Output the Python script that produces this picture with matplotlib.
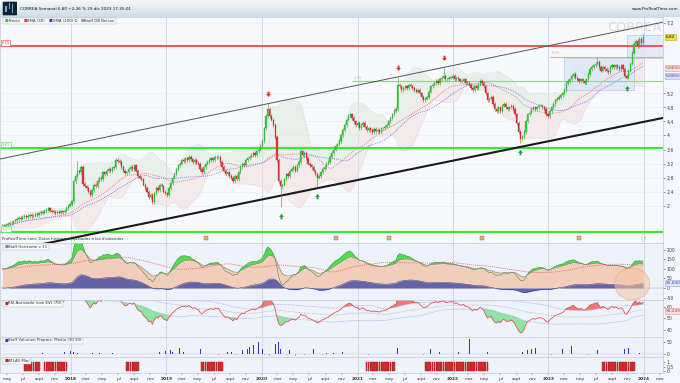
import numpy as np
import pandas as pd
import matplotlib
matplotlib.use("Agg")
import matplotlib.pyplot as plt
import matplotlib.dates as mdates
import matplotlib.transforms as mtrans
from matplotlib.patches import Rectangle, Ellipse, FancyBboxPatch
from matplotlib.path import Path

plt.rcParams['font.family'] = ['DejaVu Sans']

# ---------------------------------------------------------------- data
last_week = "2023-12-29"
closes = [
    1.44, 1.42, 1.45, 1.48, 1.52, 1.50, 1.55, 1.58, 1.62, 1.66, 1.63, 1.68, 1.70, 1.67, 1.71, 1.74, 1.70, 1.72, 1.76, 1.73,
    1.78, 1.82, 1.80, 1.85, 1.88, 1.92, 1.86, 1.83, 1.82, 1.79, 1.83, 1.80, 1.84, 1.82, 1.86, 1.93, 2.00, 2.05, 2.12, 2.70,
    2.85, 3.00, 2.95, 3.10, 2.62, 2.55, 2.50, 2.40, 2.30, 2.45, 2.60, 2.55, 2.70, 2.80, 2.75, 2.95, 2.90, 3.00, 3.05, 2.98,
    3.08, 3.10, 3.30, 3.28, 3.25, 3.10, 3.00, 2.92, 2.95, 3.05, 3.10, 3.05, 3.15, 3.00, 2.85, 2.80, 2.75, 2.60, 2.50, 2.40,
    2.25, 2.30, 2.10, 2.35, 2.50, 2.45, 2.60, 2.55, 2.40, 2.35, 2.30, 2.50, 2.65, 2.80, 2.90, 3.05, 3.15, 3.20, 3.30, 3.28,
    3.35, 3.30, 3.40, 3.32, 3.25, 3.30, 3.22, 3.20, 3.05, 2.95, 3.10, 3.20, 3.25, 3.30, 3.35, 3.30, 3.40, 3.38, 3.40, 3.25,
    3.10, 3.00, 2.90, 2.95, 2.85, 2.80, 2.70, 2.85, 2.75, 2.95, 3.10, 3.20, 3.15, 3.30, 3.35, 3.40, 3.45, 3.50, 3.45, 3.55,
    3.60, 3.70, 3.85, 4.20, 4.55, 4.75, 4.55, 4.45, 4.30, 3.95, 3.30, 2.70, 2.55, 2.60, 2.75, 2.90, 2.85, 3.00, 3.05, 3.10,
    3.00, 3.15, 3.25, 3.55, 3.45, 3.50, 3.35, 3.20, 3.15, 3.10, 3.00, 2.90, 2.80, 2.85, 2.95, 3.05, 3.10, 3.20, 3.25, 3.40,
    3.50, 3.60, 3.70, 3.75, 3.85, 4.00, 4.15, 4.30, 4.45, 4.55, 4.60, 4.50, 4.40, 4.30, 4.35, 4.20, 4.30, 4.35, 4.25, 4.15,
    4.20, 4.15, 4.10, 4.18, 4.12, 4.15, 4.10, 4.20, 4.20, 4.25, 4.30, 4.40, 4.50, 4.60, 4.70, 4.75, 5.45, 5.40, 5.30, 5.35,
    5.40, 5.35, 5.45, 5.40, 5.35, 5.30, 5.25, 5.30, 5.20, 5.10, 5.00, 5.05, 5.10, 5.25, 5.40, 5.45, 5.50, 5.55, 5.50, 5.60,
    5.65, 5.70, 5.60, 5.60, 5.65, 5.65, 5.70, 5.60, 5.65, 5.60, 5.55, 5.55, 5.60, 5.50, 5.50, 5.45, 5.35, 5.30, 5.40, 5.35,
    5.45, 5.55, 5.50, 5.40, 5.20, 5.00, 5.05, 5.10, 4.90, 4.75, 4.70, 4.80, 4.70, 4.85, 4.90, 4.80, 4.75, 4.80, 4.85, 4.75,
    4.60, 4.35, 4.10, 3.90, 3.95, 4.10, 4.40, 4.60, 4.65, 4.75, 4.80, 4.75, 4.80, 4.85, 4.85, 4.80, 4.75, 4.60, 4.55, 4.70,
    4.80, 4.90, 5.00, 5.05, 5.10, 5.15, 5.20, 5.30, 5.50, 5.55, 5.60, 5.70, 5.75, 5.65, 5.60, 5.55, 5.60, 5.55, 5.50, 5.60,
    5.75, 5.90, 5.95, 6.00, 6.05, 6.10, 5.95, 5.85, 5.95, 5.90, 5.85, 5.80, 5.95, 6.00, 5.95, 6.00, 5.95, 5.90, 6.00, 5.90,
    5.70, 5.65, 5.85, 6.05, 6.35, 6.60, 6.70, 6.55, 6.75, 6.64, 6.80,
]
high_overrides = {41: 3.27, 145: 4.92, 216: 5.66, 241: 5.95, 325: 6.24, 350: 6.90}
low_overrides = {152: 1.96, 172: 2.53, 283: 3.79}
sell_signal_weeks = [145, 216, 241]
buy_signal_weeks = [152, 172, 283, 341]

volume_weeks = [22, 34, 37, 39, 41, 49, 53, 60, 86, 89, 92, 93, 97, 99, 108, 123, 125, 131, 134, 135, 137,
                140, 142, 144, 149, 151, 152, 157, 170, 177, 181, 186, 216, 234, 239, 249, 255, 265,
                284, 287, 289, 291, 306, 311, 325, 333, 340, 342, 345, 348]
volume_values = [4, 8, 12, 10, 6, 5, 4, 4, 8, 12, 15, 8, 25, 10, 22, 10, 8, 16, 20, 30, 37,
                 51, 20, 28, 42, 50, 20, 16, 22, 6, 5, 10, 25, 20, 8, 8, 62, 8,
                 10, 15, 20, 25, 22, 33, 18, 8, 20, 25, 62, 5]
volume_neg_weeks = [118, 128, 143, 146, 150, 155, 160, 165, 175, 200, 230, 262, 300, 320]
volume_neg_values = [-4, -5, -6, -8, -10, -5, -7, -6, -5, -4, -4, -5, -5, -4]

atlas_periods = [("2017-07-07", "2017-09-01"), ("2017-09-22", "2017-12-15"),
                 ("2018-08-03", "2018-09-14"), ("2019-05-17", "2019-08-02"),
                 ("2021-02-05", "2021-05-21"), ("2021-09-17", "2022-05-13"),
                 ("2023-07-28", "2023-11-24")]

levels = [(6.55, "6,55", "#f24646", 1.3, None, True),
          (6.25, "6,25", "#f3a0a0", 0.8, "2023-01-06", False),
          (5.55, "5,55", "#8cd88c", 0.8, "2020-12-11", False),
          (3.65, "3,65", "#3de83d", 1.6, None, True),
          (1.25, "1,25", "#3de83d", 1.6, None, True)]
trend_upper = [("2017-04-05", 3.33), ("2024-03-14", 7.23)]
trend_lower = [("2017-04-05", 0.66), ("2024-03-14", 4.50)]
zones = [("2023-03-01", "2023-11-24", 5.30, 6.20), ("2023-10-27", "2024-03-14", 6.20, 6.85)]
dividend_dates = ["2019-05-31", "2020-10-09", "2021-04-30", "2022-04-22", "2023-04-28"]

last_close, last_sma30, last_sma200 = 6.80, 5.865, 5.806
last_osc, last_rsi = 25.840, 56.249
price_ticks = [2, 2.4, 2.8, 3.2, 3.6, 4, 4.4, 4.8, 5.2, 7.2]

# ---------------------------------------------------------------- prep
dates = pd.date_range(end=last_week, periods=len(closes), freq="7D")
xd = mdates.date2num(dates.to_pydatetime())
s = pd.Series(closes, dtype=float)
c = s.values
o = np.r_[c[0], c[:-1]]
hi = np.maximum(o, c) + 0.05
lo = np.minimum(o, c) - 0.05
for k, v in high_overrides.items():
    hi[k] = v
for k, v in low_overrides.items():
    lo[k] = v
up = c >= o

def d2n(d):
    return mdates.date2num(pd.Timestamp(d).to_pydatetime())

XL = (d2n("2017-04-05"), d2n("2024-03-14"))
W, H = 680, 383
fig = plt.figure(figsize=(6.8, 3.83), dpi=100, facecolor="#f3f6fb")
renderer = fig.canvas.get_renderer()

def ax_px(x0, y0, x1, y1, **kw):
    return fig.add_axes([x0 / W, 1 - y1 / H, (x1 - x0) / W, (y1 - y0) / H], **kw)

def fmt(v):
    return f"{v:g}".replace(".", ",")

PANEL_BG = "#eef2fa"
SPINE = "#c2cad8"

def style(ax, bg):
    ax.set_facecolor(bg)
    for sp in ax.spines.values():
        sp.set_color(SPINE)
        sp.set_linewidth(0.5)
    ax.set_xlim(*XL)
    ax.yaxis.tick_right()
    ax.tick_params(axis="y", labelsize=3.3, length=1.5, width=0.4, pad=1, colors="#444444")
    ax.tick_params(axis="x", length=0, labelbottom=False)
    for yr in range(2018, 2025):
        ax.axvline(d2n(f"{yr}-01-01"), color="#c9d3e3", lw=0.6, zorder=0.5)

def label_row(ypx, items, fs=2.8, x0=3):
    """items: list of (text, [colors]) drawn left to right inside one framed box"""
    x = x0 + 1.5
    for text, cols in items:
        for col in cols:
            fig.text(x / W, 1 - ypx / H, "\u25a0", fontsize=fs, color=col,
                     va="center", ha="left", zorder=11)
            x += 3.0
        x += 0.8
        t = fig.text(x / W, 1 - ypx / H, text, fontsize=fs, color="#333333", va="center", ha="left", zorder=11)
        x += t.get_window_extent(renderer).width + 3.5
    hbox = 6.0
    fig.add_artist(Rectangle((x0 / W, 1 - (ypx + hbox / 2) / H), (x - x0 - 2) / W, hbox / H,
                             transform=fig.transFigure, fc="#f7f8fb", ec="#b7bfcc", lw=0.35, zorder=10))

def value_box(ax, y, text, fc, ec, tc):
    tr = mtrans.blended_transform_factory(ax.transAxes, ax.transData)
    ax.text(1.004, y, text, transform=tr, va="center", ha="left", fontsize=3.1, color=tc,
            bbox=dict(boxstyle="square,pad=0.25", fc=fc, ec=ec, lw=0.4), zorder=12, clip_on=False)

# ---------------------------------------------------------------- header
hax = ax_px(0, 0, 680, 17)
grad = np.linspace(0, 1, 40).reshape(-1, 1)
c1 = np.array([0.96, 0.975, 0.985])
c2 = np.array([0.80, 0.87, 0.92])
img = c1[None, None, :] * (1 - grad[:, :, None]) + c2[None, None, :] * grad[:, :, None]
hax.imshow(img, aspect="auto", extent=[0, 1, 0, 1])
hax.set_xlim(0, 1); hax.set_ylim(0, 1); hax.axis("off")
hax.add_patch(FancyBboxPatch((0.004, 0.1), 0.021, 0.8, boxstyle="round,pad=0,rounding_size=0.004",
                             fc="#16222f", ec="none", transform=hax.transAxes))
for bx, by, bh in [(0.008, 0.3, 0.35), (0.0125, 0.45, 0.35), (0.017, 0.25, 0.5)]:
    hax.add_patch(Rectangle((bx, by), 0.0025, bh, fc="#5fb3e8", ec="none"))
hax.text(0.03, 0.5, "CORREA Semanal 6,80 +2,36 % 29 dic 2023 17:35:01", fontsize=3.0,
         va="center", ha="left", color="#111111")
hax.text(0.997, 0.45, "www.ProRealTime.com", fontsize=3.0, va="center", ha="right", color="#111111")

# ---------------------------------------------------------------- main price panel
ax = ax_px(0, 17, 663, 243)
style(ax, "#f7f9fd")
ax.set_ylim(0.937, 7.376)
ax.set_yticks(price_ticks)
ax.set_yticklabels([fmt(v) for v in price_ticks])
for v in price_ticks:
    ax.axhline(v, color="#e7ecf4", lw=0.4, zorder=0.4)

ax.text(0.957, 0.955, "CORREA", transform=ax.transAxes, fontsize=9.3, color="#d9dde4",
        ha="center", va="center", zorder=0.6)

# bands (Staff DB Bolsas)
mid = s.rolling(20, min_periods=1).mean()
sd = s.rolling(20, min_periods=2).std().fillna(0)
ub, lb = mid + 2 * sd, mid - 2 * sd
ax.fill_between(xd, mid, ub, color="#dde9dd", alpha=0.55, lw=0, zorder=1)
ax.fill_between(xd, lb, mid, color="#f3dfdf", alpha=0.55, lw=0, zorder=1)
ax.plot(xd, ub, color="#d2ddd2", lw=0.3, zorder=1.1)
ax.plot(xd, lb, color="#ecd6d6", lw=0.3, zorder=1.1)

# zones
for d0, d1, p0, p1 in zones:
    ax.add_patch(Rectangle((d2n(d0), p0), d2n(d1) - d2n(d0), p1 - p0, fc="#d9e5f7",
                           ec="#a9bfe6", lw=0.6, alpha=0.7, zorder=1.2))

# moving averages
sma30 = s.rolling(30, min_periods=1).mean()
sma200 = s.rolling(40, min_periods=1).mean()
ax.plot(xd, sma30, color="#e66a6a", lw=0.6, ls=(0, (1, 1.3)), zorder=2)
ax.plot(xd, sma200, color="#6b6be6", lw=0.6, ls=(0, (1, 1.3)), zorder=2)

# horizontal levels
trb = mtrans.blended_transform_factory(ax.transAxes, ax.transData)
for p, lab, col, lw, start, left_box in levels:
    x0 = XL[0] if start is None else d2n(start)
    ax.plot([x0, XL[1]], [p, p], color=col, lw=lw, zorder=2.5, solid_capstyle="butt")
    if left_box:
        ax.text(0.002, p + 0.09, lab, transform=trb, fontsize=2.8, color=col, va="center",
                ha="left", bbox=dict(boxstyle="square,pad=0.2", fc="white", ec=col, lw=0.4), zorder=6)
    else:
        ax.text(x0 + 8, p + 0.09, lab, fontsize=2.8, color=col, va="center", ha="left", zorder=6)

# trend lines
ax.plot([d2n(d) for d, _ in trend_upper], [v for _, v in trend_upper], color="#555555", lw=0.7, zorder=2.6)
ax.plot([d2n(d) for d, _ in trend_lower], [v for _, v in trend_lower], color="#1a1a1a", lw=1.5, zorder=2.6)

# candles
body_col = np.where(up, "#37d137", "#e23b3b")
edge_col = np.where(up, "#1f9a1f", "#a82020")
ax.vlines(xd, lo, hi, colors=np.where(up, "#4cae4c", "#c85050"), lw=0.45, zorder=3)
ax.bar(xd, np.maximum(np.abs(c - o), 0.015), bottom=np.minimum(o, c), width=4.6,
       color=body_col, edgecolor=edge_col, lw=0.2, zorder=3.1)

# signal arrows
dv = [(-0.35, 1.0), (0.35, 1.0), (0.35, 0.15), (0.85, 0.15), (0.0, -0.9), (-0.85, 0.15), (-0.35, 0.15), (-0.35, 1.0)]
codes = [Path.MOVETO] + [Path.LINETO] * 6 + [Path.CLOSEPOLY]
down_arrow = Path(dv, codes)
up_arrow = Path([(x, -y) for x, y in dv], codes)
ax.scatter(xd[sell_signal_weeks], hi[sell_signal_weeks] + 0.26, marker=down_arrow, s=16,
           color="#e8262a", lw=0, zorder=5)
ax.scatter(xd[buy_signal_weeks], lo[buy_signal_weeks] - 0.26, marker=up_arrow, s=16,
           color="#1f9a3c", lw=0, zorder=5)

# dividend icons and info marker
ax.scatter([d2n(d) for d in dividend_dates], [1.08] * len(dividend_dates), marker="s", s=5,
           color="#f0b050", edgecolor="#4a6fb0", lw=0.3, zorder=6)
ax.text(d2n("2024-01-01"), 1.08, "i", fontsize=2.6, ha="center", va="center", color="#555",
        bbox=dict(boxstyle="square,pad=0.3", fc="white", ec="#aaa", lw=0.3), zorder=6)
ax.text(0.003, 1.06, "ProRealTime.com: Datos históricos ajustados a los dividendos", transform=trb,
        fontsize=2.8, color="#333333", va="center", ha="left", zorder=6)

# value boxes
value_box(ax, last_close, "6,80", "#f5e43a", "#b0a020", "#111111")
value_box(ax, last_sma30 + 0.05, "5,8650", "#f8dede", "#e39a9a", "#c04040")
value_box(ax, last_sma200 - 0.1, "5,8060", "#dfe3fa", "#9aa6e6", "#3a46b0")

# ---------------------------------------------------------------- oscillator panel
ax2 = ax_px(0, 243, 663, 300)
style(ax2, PANEL_BG)
ax2.set_ylim(-62.5, 234)
ax2.set_yticks([200, 150, 100, 50, 0, -50])
ax2.set_yticklabels(["200", "150", "100", "50", "0", "-50"])

def ema(n):
    return s.ewm(span=n, adjust=False).mean()

orange = 100 + 400 * (ema(8) / ema(30) - 1)
fast = 100 + 400 * (ema(3) / ema(30) - 1)
signal = orange.rolling(30, min_periods=1).mean()
blue = 250 * (ema(13) / ema(52) - 1)

ax2.fill_between(xd, 0, orange, color="#f2cdbb", lw=0, zorder=1)
ax2.fill_between(xd, orange, fast, where=fast > orange, color="#4fdc4f", lw=0, zorder=1.2, interpolate=True)
ax2.plot(xd, fast, color="#2a8a2a", lw=0.35, zorder=1.3)
ax2.plot(xd, orange, color="#7c7466", lw=0.4, zorder=1.3)
ax2.fill_between(xd, 0, blue, color="#5558a8", alpha=0.9, lw=0, zorder=1.5)
ax2.plot(xd, blue, color="#33367a", lw=0.35, zorder=1.6)
ax2.plot(xd, signal, color="#e45a5a", lw=0.6, ls=(0, (1, 1.3)), zorder=1.7)
ax2.axhline(0, color="#9aa3b5", lw=0.3, zorder=0.8)
ax2.add_patch(Ellipse((d2n("2023-11-17"), 21), 134, 166, fc="#f7c4a8", ec="#ee9c70",
                      lw=0.6, alpha=0.55, zorder=4))
value_box(ax2, last_osc, "25,840", "#dfe6f8", "#8fa2d8", "#3a4aa0")

# ---------------------------------------------------------------- RSI panel
ax3 = ax_px(0, 300, 663, 337)
style(ax3, PANEL_BG)
ax3.set_ylim(33.9, 66.1)
ax3.set_yticks([60, 50, 40])
delta = s.diff().fillna(0)
gain = delta.clip(lower=0).ewm(alpha=1 / 40, adjust=True, min_periods=12).mean()
loss = (-delta.clip(upper=0)).ewm(alpha=1 / 40, adjust=True, min_periods=12).mean()
rsi = (100 - 100 / (1 + gain / loss)).bfill()
rmid = rsi.rolling(60, min_periods=1).mean()
rsd = rsi.rolling(60, min_periods=5).std().bfill()
rup, rlo = rmid + rsd, rmid - rsd
ax3.fill_between(xd, rup, rsi, where=rsi > rup, color="#f07a7a", lw=0, interpolate=True, zorder=1)
ax3.fill_between(xd, rlo, rsi, where=rsi < rlo, color="#8ee4a4", lw=0, interpolate=True, zorder=1)
ax3.plot(xd, rup, color="#8d9de0", lw=0.5, ls=(0, (1, 1.3)), zorder=1.2)
ax3.plot(xd, rlo, color="#8d9de0", lw=0.5, ls=(0, (1, 1.3)), zorder=1.2)
ax3.plot(xd, rmid, color="#a8a8b8", lw=0.5, ls=(0, (1, 1.3)), zorder=1.2)
ax3.plot(xd, rsi, color="#e04a4a", lw=0.55, zorder=2)
value_box(ax3, last_rsi, "56,249", "#f8dede", "#e39a9a", "#c03a3a")

# ---------------------------------------------------------------- volume panel
ax4 = ax_px(0, 337, 663, 357)
style(ax4, PANEL_BG)
ax4.set_ylim(-12.5, 70.8)
ax4.set_yticks([50, 0])
ax4.bar(xd[volume_weeks], volume_values, width=3.5, color="#3434c8", lw=0, zorder=2)
ax4.bar(xd[volume_neg_weeks], volume_neg_values, width=3.5, color="#a6a6ae", lw=0, zorder=2)
ax4.axhline(0, color="#b8bfcc", lw=0.3, zorder=1)

# ---------------------------------------------------------------- ATLAS panel
ax5 = ax_px(0, 357, 663, 373)
style(ax5, PANEL_BG)
ax5.set_ylim(-0.22, 1.56)
ax5.set_yticks([1, 0.5, 0])
ax5.set_yticklabels(["1", "0,5", "0"])
flag = np.zeros(len(dates), dtype=bool)
for a, b in atlas_periods:
    flag |= (dates >= pd.Timestamp(a)) & (dates <= pd.Timestamp(b))
ax5.bar(xd[flag], 1, width=5.6, color="#e43232", edgecolor="#a01616", lw=0.3, zorder=2)

# x axis labels
mnames = {3: "mar", 5: "may", 7: "jul", 9: "sept", 11: "nov"}
ticks, labels = [], []
for yr in range(2017, 2025):
    for m in [1, 3, 5, 7, 9, 11]:
        t = d2n(f"{yr}-{m:02d}-01")
        if XL[0] <= t <= XL[1]:
            ticks.append(t)
            labels.append(str(yr) if m == 1 else mnames[m])
ax5.set_xticks(ticks)
ax5.set_xticklabels(labels)
ax5.tick_params(axis="x", labelbottom=True, labelsize=3.1, length=1.2, width=0.3, pad=1.5, colors="#333333")
for lab in ax5.get_xticklabels():
    if lab.get_text().isdigit():
        lab.set_fontweight("bold")

# ---------------------------------------------------------------- legend / panel labels
label_row(20.5, [("Precio", ["#36c236"]), ("SMA (30)", ["#e84040"]),
                 ("SMA (200) D", ["#3a3ad0"]), ("Staff DB Bolsas", ["#9a9a9a"])])
label_row(247.0, [("Staff Horizonte v 11", ["#8a8a8a"])])
label_row(303.5, [("RSI Avanzado (con EV) (70)", ["#e02020"])])
label_row(340.5, [("Staff Volumen Proporc. Media (30 30)", ["#3434c8"])])
label_row(360.5, [("ATLAS Mini", ["#e02020"])])

fig.savefig("out.png", dpi=100, facecolor=fig.get_facecolor())
